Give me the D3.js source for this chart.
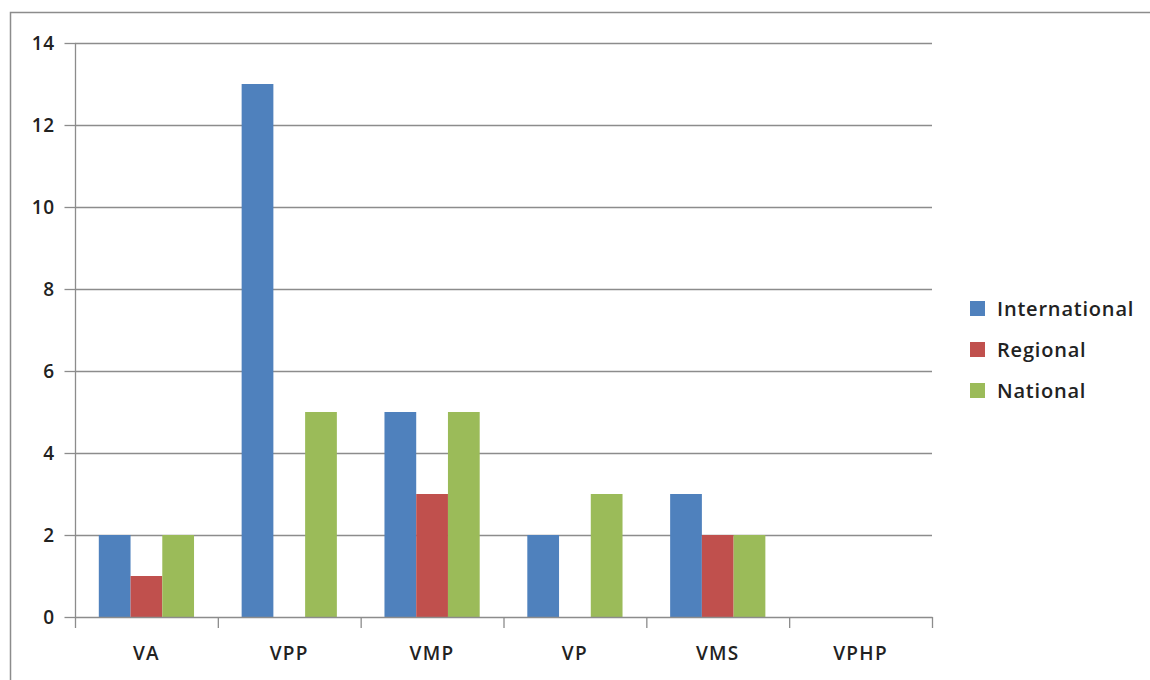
<!DOCTYPE html>
<html>
<head>
<meta charset="utf-8">
<script src="https://cdn.jsdelivr.net/npm/d3@7"></script>
<style>
  body { margin: 0; background: #fff; }
  svg text { font-family: "Open Sans", Lato, sans-serif; fill: #222; font-weight: 600; }
</style>
</head>
<body>
<svg id="chart"></svg>
<script>
categories = ["VA", "VPP", "VMP", "VP", "VMS", "VPHP"];
seriesNames = ["International", "Regional", "National"];
international = [2, 13, 5, 2, 3, 0];
regional = [1, 0, 3, 0, 2, 0];
national = [2, 5, 5, 3, 2, 0];
yTicks = [0, 2, 4, 6, 8, 10, 12, 14];
colors = ["#4F81BD", "#C0504D", "#9BBB59"];

WIDTH = 1150
HEIGHT = 680
left = 75
right = 932
top_ = 43
bottom = 617

var svg = d3.select("#chart")
    .attr("width", WIDTH)
    .attr("height", HEIGHT);

// outer chart border (runs off the right and bottom edges)
svg.append("rect")
    .attr("x", 10.5).attr("y", 12.5)
    .attr("width", 1160).attr("height", 700)
    .attr("fill", "none")
    .attr("stroke", "#8c8c8c")
    .attr("stroke-width", 1.5);

var x = d3.scaleBand().domain(categories).range([left, right]).padding(0);
var inner = d3.scaleBand().domain(seriesNames)
    .range([0, x.bandwidth()]).paddingInner(0).paddingOuter(0.75);
var y = d3.scaleLinear().domain([0, 14]).range([bottom, top_]);

// gridlines
svg.append("g")
    .selectAll("line")
    .data(yTicks.filter(d => d > 0))
    .enter().append("line")
    .attr("x1", left).attr("x2", right)
    .attr("y1", d => y(d) + 0.5).attr("y2", d => y(d) + 0.5)
    .attr("stroke", "#8c8c8c")
    .attr("stroke-width", 1.3);

// bars
var values = [international, regional, national];
var rows = [];
categories.forEach(function (c, i) {
    seriesNames.forEach(function (s, j) {
        rows.push({ cat: c, series: s, value: values[j][i], color: colors[j] });
    });
});

svg.append("g")
    .selectAll("rect")
    .data(rows)
    .enter().append("rect")
    .attr("x", d => x(d.cat) + inner(d.series))
    .attr("width", inner.bandwidth())
    .attr("y", d => y(d.value))
    .attr("height", d => y(0) - y(d.value))
    .attr("fill", d => d.color);

// y axis
var yAxis = svg.append("g")
    .attr("transform", "translate(" + (left + 0.5) + ",0)")
    .call(d3.axisLeft(y).tickValues(yTicks).tickSize(11).tickPadding(10).tickFormat(d3.format("d")));
yAxis.select(".domain").remove();
yAxis.selectAll("line").attr("stroke", "#8c8c8c").attr("stroke-width", 1.3);
yAxis.selectAll("text")
    .attr("font-family", null)
    .style("font-size", "19px")
    .style("letter-spacing", "0.5px")
    .attr("fill", "#222");
svg.append("line")
    .attr("x1", left + 0.5).attr("x2", left + 0.5)
    .attr("y1", top_).attr("y2", bottom + 11)
    .attr("stroke", "#8c8c8c").attr("stroke-width", 1.3);

// x axis
svg.append("line")
    .attr("x1", left).attr("x2", right + 0.5)
    .attr("y1", bottom + 0.5).attr("y2", bottom + 0.5)
    .attr("stroke", "#8c8c8c").attr("stroke-width", 1.3);
svg.append("g")
    .selectAll("line")
    .data(categories.slice(1).concat(["end"]))
    .enter().append("line")
    .attr("x1", d => (d === "end" ? right : x(d)) + 0.5)
    .attr("x2", d => (d === "end" ? right : x(d)) + 0.5)
    .attr("y1", bottom).attr("y2", bottom + 11)
    .attr("stroke", "#8c8c8c").attr("stroke-width", 1.3);
svg.append("g")
    .selectAll("text")
    .data(categories)
    .enter().append("text")
    .attr("x", d => x(d) + x.bandwidth() / 2)
    .attr("y", 660)
    .attr("text-anchor", "middle")
    .style("font-size", "19px")
    .style("letter-spacing", "1.3px")
    .text(d => d);

// legend
var legend = svg.append("g")
    .selectAll("g")
    .data(seriesNames)
    .enter().append("g")
    .attr("transform", (d, i) => "translate(970," + (301 + i * 41) + ")");
legend.append("rect")
    .attr("width", 15).attr("height", 15)
    .attr("fill", (d, i) => colors[i]);
legend.append("text")
    .attr("x", 27).attr("y", 15)
    .style("font-size", "20px")
    .style("letter-spacing", "0.8px")
    .text(d => d);
</script>
</body>
</html>
